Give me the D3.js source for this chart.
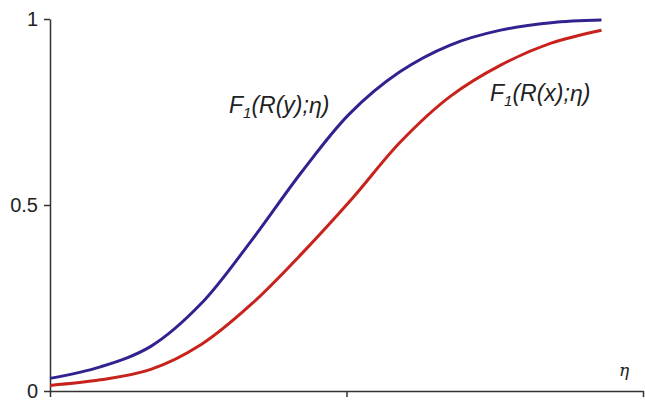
<!DOCTYPE html>
<meta charset="utf-8">
<style>
  body { margin: 0; background: #fff; }
  svg { display: block; }
  .axis path, .axis line { stroke: #333; stroke-width: 1.5px; }
  .axis text { font-family: "Liberation Sans", Arial, sans-serif; font-size: 20px; fill: #222; }
  .curve { fill: none; stroke-width: 3px; }
  .lbl { font-family: "Liberation Sans", Arial, sans-serif; font-style: italic; font-size: 23px; fill: #222; }
</style>
<body>
<div id="chart"></div>
<script src="https://d3js.org/d3.v7.min.js"></script>
<script>
  // eta values and F1 values
  const etaY = [0, 0.17, 0.34, 0.51, 0.68, 0.85, 1.01, 1.18, 1.35, 1.52, 1.69, 1.86];
  const fY = [0.034, 0.065, 0.120, 0.235, 0.405, 0.590, 0.745, 0.858, 0.930, 0.970, 0.990, 0.997];

  const etaX = [0, 0.17, 0.34, 0.51, 0.68, 0.85, 1.02, 1.18, 1.35, 1.52, 1.69, 1.86];
  const fX = [0.015, 0.030, 0.058, 0.125, 0.234, 0.370, 0.518, 0.668, 0.792, 0.876, 0.935, 0.970];

  const xTicks = [0, 1, 2];
  const yTicks = [0, 0.5, 1];
  const yTickLabels = ["0", "0.5", "1"];

  const width = 645, height = 402;
  const margin = {left: 50, top: 19, right: 2, bottom: 11};

  const svg = d3.select("#chart").append("svg")
    .attr("width", width)
    .attr("height", height);

  const x = d3.scaleLinear().domain([0, 2]).range([margin.left, width - margin.right]);
  const y = d3.scaleLinear().domain([0, 1]).range([height - margin.bottom, margin.top]);

  svg.append("g")
    .attr("class", "axis")
    .attr("transform", `translate(0,${y(0)})`)
    .call(d3.axisBottom(x).tickValues(xTicks).tickSize(6).tickSizeOuter(0).tickFormat(""));

  svg.append("g")
    .attr("class", "axis")
    .attr("transform", `translate(${x(0)},0)`)
    .call(d3.axisLeft(y).tickValues(yTicks).tickSize(6).tickSizeOuter(0).tickPadding(6)
      .tickFormat((d, i) => yTickLabels[i]));

  const line = d3.line()
    .x(d => x(d[0]))
    .y(d => y(d[1]))
    .curve(d3.curveCatmullRom.alpha(0.5));

  svg.append("path")
    .attr("class", "curve")
    .attr("stroke", "#c8221c")
    .attr("d", line(d3.zip(etaX, fX)));

  svg.append("path")
    .attr("class", "curve")
    .attr("stroke", "#30238f")
    .attr("d", line(d3.zip(etaY, fY)));

  // curve labels
  function label(px, py, arg) {
    const t = svg.append("text").attr("class", "lbl").attr("x", px).attr("y", py);
    t.append("tspan").text("F");
    t.append("tspan").attr("dy", 5).attr("font-size", "15px").text("1");
    t.append("tspan").attr("dy", -5).text("(R(" + arg + ");\u03b7)");
  }
  label(229, 113, "y");
  label(490, 101, "x");

  svg.append("text")
    .attr("x", 619)
    .attr("y", 376)
    .attr("font-family", "DejaVu Serif, serif")
    .attr("font-style", "italic")
    .attr("font-size", "17px")
    .attr("fill", "#222")
    .text("\u03b7");
</script>
</body>
</html>
